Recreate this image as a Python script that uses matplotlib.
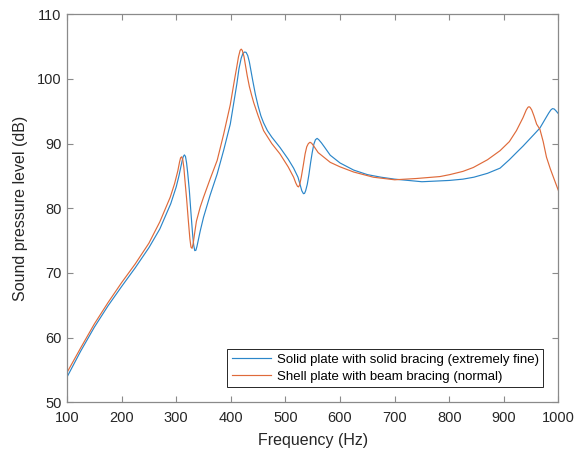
import numpy as np
import matplotlib
matplotlib.use('Agg')
import matplotlib.pyplot as plt

plt.rcParams['font.family'] = ['Liberation Sans', 'DejaVu Sans']

# Solid plate with solid bracing (extremely fine mesh)
freq_solid = [100, 125, 150, 175, 200, 225, 250, 270, 290, 300, 305, 308, 311, 313,
              315, 317, 319, 321, 324, 327, 330, 332, 334, 336, 338, 341, 344, 350,
              362, 375, 387, 399, 411, 415, 419, 422, 425, 428, 431, 434, 437, 440,
              445, 450, 455, 460, 467, 475, 490, 505, 515, 523, 527, 530, 533, 535,
              537, 540, 543, 546, 549, 552, 555, 558, 561, 566, 572, 582, 600, 625,
              650, 675, 700, 725, 750, 775, 800, 825, 845, 870, 893, 910, 923, 935,
              945, 955, 966, 975, 982, 986, 989, 992, 995, 1000]
spl_solid = [53.9, 57.9, 61.6, 64.9, 67.9, 70.8, 73.9, 76.8, 80.7, 83.3, 85.0, 86.2, 87.4, 88.0,
             88.25, 88.0, 87.0, 85.5, 82.8, 79.3, 76.0, 74.3, 73.45, 73.5, 74.1, 75.3, 76.5, 78.6,
             82.0, 85.3, 89.0, 93.0, 99.2, 101.6, 103.2, 103.9, 104.15, 104.1, 103.6, 102.6, 101.2, 99.8,
             97.6, 95.8, 94.3, 93.2, 92.0, 91.0, 89.4, 87.6, 86.2, 84.8, 83.6, 82.7, 82.25, 82.3,
             82.7, 83.7, 85.2, 87.0, 88.6, 89.9, 90.6, 90.8, 90.6, 90.1, 89.4, 88.2, 87.0, 85.9,
             85.2, 84.8, 84.5, 84.3, 84.1, 84.2, 84.3, 84.5, 84.8, 85.4, 86.2, 87.5, 88.6, 89.6,
             90.5, 91.4, 92.4, 93.7, 94.7, 95.2, 95.4, 95.35, 95.1, 94.6]

# Shell plate with beam bracing (normal mesh)
freq_shell = [100, 125, 150, 175, 200, 225, 250, 270, 289, 297, 303, 306, 308, 310,
              312, 314, 316, 319, 322, 325, 327, 329, 331, 334, 337, 344, 350, 362,
              375, 387, 399, 407, 411, 414, 417, 419, 421, 424, 427, 430, 434, 438,
              442, 450, 460, 475, 490, 505, 515, 519, 522, 524, 526, 529, 533, 536,
              539, 542, 545, 548, 552, 560, 582, 600, 625, 661, 700, 740, 783, 801,
              825, 844, 870, 893, 910, 923, 935, 941, 944, 946, 948, 951, 955, 960,
              966, 972, 978, 985, 992, 1000]
spl_shell = [54.6, 58.4, 62.1, 65.4, 68.5, 71.4, 74.6, 77.9, 81.7, 83.8, 85.8, 87.1, 87.8, 87.95,
             87.5, 86.3, 84.3, 81.5, 78.3, 75.3, 74.0, 73.8, 74.5, 76.3, 78.0, 80.2, 81.7, 84.5,
             87.4, 91.5, 96.0, 100.0, 101.9, 103.4, 104.4, 104.6, 104.4, 103.5, 102.0, 100.5, 98.8, 97.5,
             96.3, 94.3, 92.0, 90.0, 88.4, 86.4, 84.8, 83.9, 83.4, 83.3, 83.6, 84.8, 86.8, 88.4,
             89.5, 90.0, 90.2, 90.05, 89.6, 88.6, 87.1, 86.4, 85.6, 84.8, 84.4, 84.6, 84.9, 85.2,
             85.7, 86.3, 87.5, 88.9, 90.3, 92.0, 94.0, 95.2, 95.6, 95.7, 95.6, 95.2, 94.3, 93.0,
             92.2, 90.3, 87.9, 86.1, 84.5, 82.7]

labels = ['Solid plate with solid bracing (extremely fine)',
          'Shell plate with beam bracing (normal)']

fig = plt.figure(figsize=(5.82, 4.55), dpi=100)
ax = fig.add_axes([0.1151, 0.1158, 0.8445, 0.8530])

ax.plot(freq_solid, spl_solid, color='#2b86c9', linewidth=0.85, label=labels[0])
ax.plot(freq_shell, spl_shell, color='#df6a3a', linewidth=0.85, label=labels[1])

ax.set_xlim(100, 1000)
ax.set_ylim(50, 110)
ax.set_xticks(np.arange(100, 1001, 100))
ax.set_yticks(np.arange(50, 111, 10))

for s in ax.spines.values():
    s.set_color('#8a8a8a')
    s.set_linewidth(0.9)
ax.tick_params(direction='in', length=4, width=0.8, color='#8a8a8a',
               top=True, right=True, labelsize=10.5, labelcolor='#262626')
ax.tick_params(axis='x', pad=6)
ax.tick_params(axis='y', pad=4)

ax.set_xlabel('Frequency (Hz)', fontsize=11.5, color='#262626', labelpad=6)
ax.set_ylabel('Sound pressure level (dB)', fontsize=11.5, color='#262626', labelpad=6)

leg = ax.legend(loc='lower right', bbox_to_anchor=(0.969, 0.0387), borderaxespad=0,
                fontsize=9.5, fancybox=False, framealpha=1, handlelength=3.0,
                handletextpad=0.4, borderpad=0.35, labelspacing=0.35)
leg.get_frame().set_edgecolor('#262626')
leg.get_frame().set_linewidth(0.7)

fig.savefig('out.png', dpi=100)
